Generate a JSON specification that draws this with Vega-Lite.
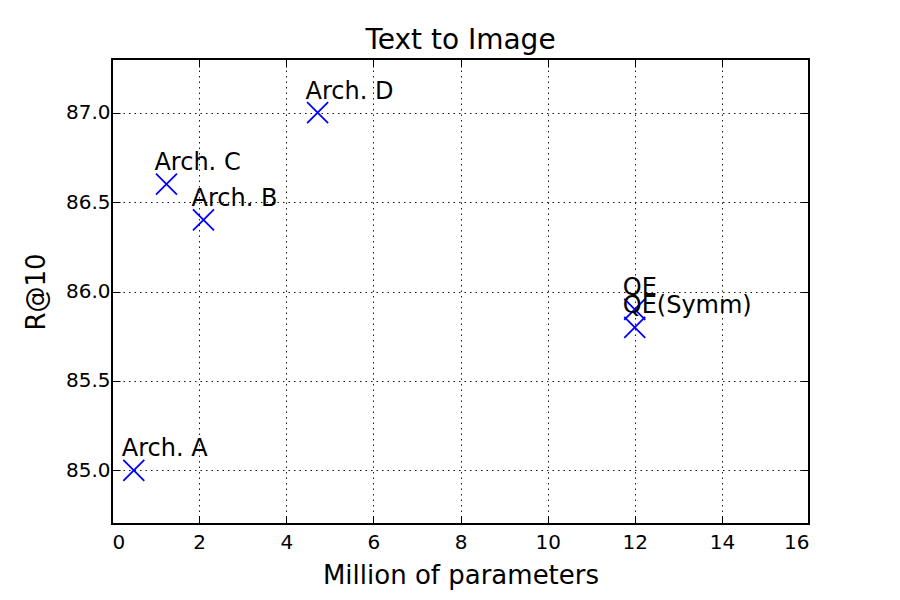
{
  "$schema": "https://vega.github.io/schema/vega-lite/v6.json",
  "width": 697,
  "height": 465,
  "autosize": {"type": "none"},
  "padding": {"left": 112, "top": 59, "right": 91, "bottom": 76},
  "background": "white",
  "title": {
    "text": "Text to Image",
    "font": "DejaVu Sans",
    "fontSize": 28,
    "fontWeight": "normal",
    "color": "black",
    "anchor": "middle",
    "baseline": "alphabetic",
    "offset": -18
  },
  "config": {
    "view": {"stroke": "black", "strokeWidth": 2},
    "axis": {
      "domain": false,
      "labelFont": "DejaVu Sans",
      "labelFontSize": 20,
      "labelColor": "black",
      "titleFont": "DejaVu Sans",
      "titleFontSize": 26,
      "titleFontWeight": "normal",
      "titleColor": "black",
      "tickColor": "black",
      "tickWidth": 1,
      "gridColor": "black",
      "gridWidth": 1,
      "gridOpacity": 0.9,
      "gridDash": [1.5, 4]
    }
  },
  "data": {
    "values": [
      {"model": "Arch. A", "params": 0.5, "r10": 85.0},
      {"model": "Arch. B", "params": 2.1, "r10": 86.4},
      {"model": "Arch. C", "params": 1.25, "r10": 86.6},
      {"model": "Arch. D", "params": 4.72, "r10": 87.0},
      {"model": "QE", "params": 12.0, "r10": 85.9},
      {"model": "QE(Symm)", "params": 12.0, "r10": 85.8}
    ]
  },
  "resolve": {"axis": {"x": "independent", "y": "independent"}},
  "layer": [
    {
      "mark": {
        "type": "point",
        "shape": "M-1,-1L1,1M1,-1L-1,1",
        "filled": false,
        "color": "#0000ff",
        "strokeWidth": 1.8,
        "size": 441,
        "opacity": 1
      },
      "encoding": {
        "x": {
          "field": "params",
          "type": "quantitative",
          "scale": {"domain": [0, 16], "nice": false, "zero": false},
          "axis": {
            "orient": "bottom",
            "title": "Million of parameters",
            "values": [0, 2, 4, 6, 8, 10, 12, 14, 16],
            "format": "d",
            "grid": true,
            "tickSize": -8,
            "labelPadding": 16,
            "titlePadding": 10
          }
        },
        "y": {
          "field": "r10",
          "type": "quantitative",
          "scale": {"domain": [84.7, 87.3], "nice": false, "zero": false},
          "axis": {
            "orient": "left",
            "title": "R@10",
            "values": [85.0, 85.5, 86.0, 86.5, 87.0],
            "format": ".1f",
            "grid": true,
            "tickSize": -8,
            "labelPadding": 10,
            "titlePadding": 16
          }
        }
      }
    },
    {
      "mark": {
        "type": "text",
        "align": "left",
        "baseline": "alphabetic",
        "dx": -12,
        "dy": -14,
        "font": "DejaVu Sans",
        "fontSize": 24,
        "color": "black"
      },
      "encoding": {
        "x": {"field": "params", "type": "quantitative", "axis": null},
        "y": {"field": "r10", "type": "quantitative", "axis": null},
        "text": {"field": "model"}
      }
    },
    {
      "mark": {"type": "point", "opacity": 0},
      "encoding": {
        "x": {
          "field": "params",
          "type": "quantitative",
          "axis": {
            "orient": "top",
            "title": null,
            "labels": false,
            "grid": false,
            "values": [0, 2, 4, 6, 8, 10, 12, 14, 16],
            "tickSize": -8
          }
        },
        "y": {
          "field": "r10",
          "type": "quantitative",
          "axis": {
            "orient": "right",
            "title": null,
            "labels": false,
            "grid": false,
            "values": [85.0, 85.5, 86.0, 86.5, 87.0],
            "tickSize": -8
          }
        }
      }
    }
  ]
}
